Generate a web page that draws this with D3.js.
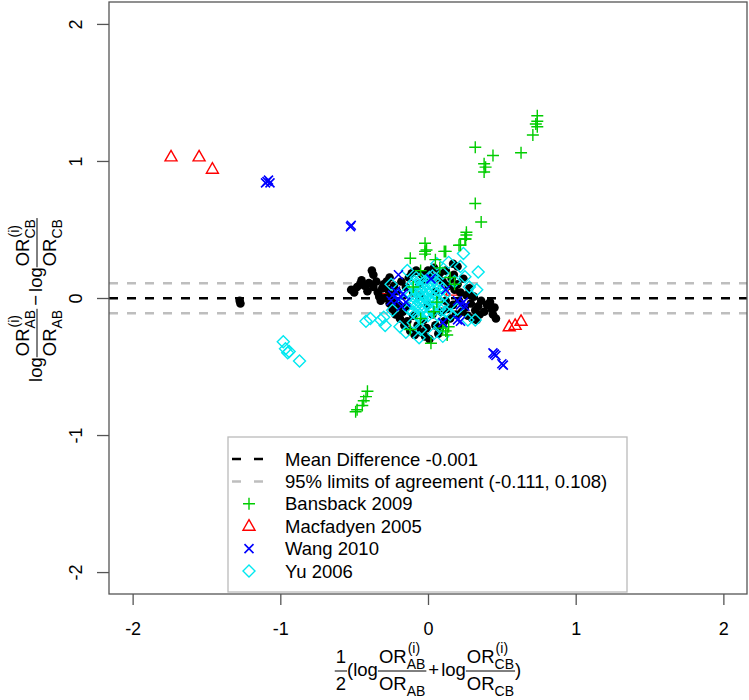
<!DOCTYPE html>
<html>
<head>
<meta charset="utf-8">
<script src="https://cdn.jsdelivr.net/npm/d3@7"></script>
<style>
  html, body { margin: 0; padding: 0; background: #fff; }
  svg { display: block; font-family: "Liberation Sans", Arial, Helvetica, sans-serif; }
</style>
</head>
<body>
<svg id="chart" width="749" height="700"></svg>
<script>
// ---------------- DATA ----------------
const xTicks = [-2, -1, 0, 1, 2];
const yTicks = [-2, -1, 0, 1, 2];
const meanDifference = -0.001;
const limitsOfAgreement = [-0.111, 0.108];

const legendLabels = [
  "Mean Difference -0.001",
  "95% limits of agreement (-0.111, 0.108)",
  "Bansback 2009",
  "Macfadyen 2005",
  "Wang 2010",
  "Yu 2006"
];

// other studies (black filled points)
const otherStudies = [
  [-1.275,-0.02],[-1.27,-0.04],
  [-0.52,0.06],[-0.50,0.04],[-0.48,0.08],[-0.46,0.10],[-0.45,0.13],[-0.43,0.09],[-0.41,0.05],
  [-0.40,0.11],[-0.38,0.20],[-0.37,0.17],[-0.37,0.08],[-0.35,0.12],[-0.34,0.04],[-0.33,0.01],
  [-0.32,-0.02],[-0.31,0.07],[-0.30,0.10],[-0.28,0.12],[-0.27,0.06],[-0.26,0.15],[-0.26,-0.04],
  [-0.25,0.02],[-0.24,-0.08],[-0.23,0.09],[-0.22,-0.12],[-0.21,0.05],[-0.20,-0.06],[-0.19,-0.15],
  [-0.18,0.12],[-0.17,-0.10],[-0.16,-0.20],[-0.15,0.08],[-0.14,-0.17],[-0.13,0.15],[-0.12,-0.24],
  [-0.11,0.18],[-0.10,-0.13],[-0.09,-0.27],[-0.08,0.20],[-0.07,-0.20],[-0.06,0.10],[-0.05,-0.25],
  [-0.04,0.17],[-0.03,-0.16],[-0.02,0.13],[-0.01,-0.22],[0.00,0.20],[0.01,-0.30],[0.02,0.16],
  [0.03,-0.12],[0.04,0.22],[0.05,-0.20],[0.06,0.15],[0.07,-0.26],[0.08,0.18],[0.09,-0.10],
  [0.10,0.12],[0.11,-0.17],[0.12,0.20],[0.13,-0.08],[0.14,0.09],[0.15,-0.15],[0.16,0.14],
  [0.17,-0.05],[0.18,0.06],[0.19,-0.12],[0.20,0.10],[0.21,-0.02],[0.22,0.04],[0.23,-0.10],
  [0.24,0.14],[0.25,-0.07],[0.26,0.02],[0.27,-0.13],[0.28,0.07],[0.29,-0.04],[0.30,-0.15],
  [0.31,0.01],[0.32,-0.09],[0.33,-0.16],[0.34,-0.06],[0.35,-0.12],[0.36,-0.02],[0.38,-0.10],
  [0.40,-0.05],[0.42,-0.03],[0.43,-0.08],[0.45,-0.07],[0.46,-0.15],[0.44,-0.12],
  [0.17,0.25],[0.20,0.23],[0.175,0.17],[0.28,0.03],[-0.29,0.0],[-0.22,-0.03],[-0.14,-0.06],
  [0.05,0.05],[-0.05,0.02],[0.00,-0.05],[0.12,-0.02],[-0.10,0.04],[0.08,-0.22],[-0.02,-0.28]
];

const bansback2009 = [
  [0.74,1.33],[0.74,1.29],[0.73,1.27],[0.74,1.25],[0.71,1.19],[0.63,1.06],[0.32,1.10],[0.44,1.04],
  [0.38,0.98],[0.39,0.955],[0.38,0.92],[0.32,0.69],[0.36,0.555],[0.26,0.48],[0.26,0.46],[0.255,0.43],
  [0.22,0.385],[0.11,0.34],[-0.02,0.40],[-0.02,0.34],[-0.02,0.32],
  [-0.41,-0.68],[-0.42,-0.72],[-0.435,-0.75],[-0.445,-0.785],[-0.48,-0.815],[-0.49,-0.83],
  [-0.12,0.29],[-0.01,0.35],[0.12,0.34],[0.05,0.28],[0.08,0.22],[-0.05,0.20],[0.15,0.15],
  [0.25,0.43],[0.21,0.385],[0.13,-0.27],[0.02,-0.33],[-0.12,-0.23],[0.10,-0.22],[0.12,-0.24],
  [0.14,-0.21],[-0.05,-0.15],[0.04,-0.10],[0.18,0.10],[-0.10,0.08],[0.06,-0.03]
];

const macfadyen2005 = [
  [-1.74,1.03],[-1.55,1.03],[-1.46,0.94],[0.55,-0.21],[0.59,-0.20],[0.63,-0.17],[-0.29,0.06],[0.16,0.05]
];

const wang2010 = [
  [-1.10,0.84],[-1.08,0.86],[-1.09,0.85],[-1.07,0.84],[-0.525,0.52],[-0.52,0.53],
  [0.44,-0.40],[0.45,-0.41],[0.46,-0.42],[0.50,-0.48],[0.51,-0.49],
  [-0.20,0.17],[-0.22,0.05],[-0.24,0.02],[-0.20,-0.01],[-0.17,0.03],[-0.15,-0.03],[-0.18,-0.06],
  [-0.25,-0.02],[0.02,0.14],[0.20,-0.02],[0.22,-0.05],[0.24,-0.03],[0.25,-0.06],[0.20,-0.16],
  [0.22,-0.17],[0.10,-0.18],[0.12,0.06]
];

const yu2006 = [
  [-0.98,-0.32],[-0.965,-0.37],[-0.95,-0.40],[-0.94,-0.39],[-0.87,-0.46],
  [0.24,0.325],[0.34,0.19],[0.25,0.155],[0.22,0.23],[0.14,0.26],[0.06,0.25],[-0.14,0.20],
  [-0.20,0.02],[-0.24,-0.09],[-0.30,-0.14],[-0.32,-0.16],[-0.39,-0.15],[-0.42,-0.17],[-0.29,-0.20],
  [-0.19,-0.21],[-0.05,-0.23],[-0.06,-0.29],[0.04,-0.26],[0.27,-0.16],[0.32,-0.16],[0.33,0.06],
  [0.18,0.12],[0.10,0.18],[-0.08,0.15],[0.20,-0.08],[0.15,-0.12],[-0.10,-0.18],[0.08,-0.20],
  [-0.25,0.10],[0.28,0.08],[0.10,-0.28],[-0.15,-0.25],
  [-0.12,0.02],[-0.11,-0.04],[-0.10,0.08],[-0.10,-0.10],[-0.09,0.12],[-0.09,0.00],[-0.08,-0.06],
  [-0.08,0.05],[-0.07,-0.13],[-0.07,0.10],[-0.06,0.02],[-0.06,-0.03],[-0.05,0.14],[-0.05,-0.09],
  [-0.05,0.06],[-0.04,-0.01],[-0.04,-0.15],[-0.03,0.09],[-0.03,0.03],[-0.03,-0.06],[-0.02,0.12],
  [-0.02,-0.11],[-0.02,0.00],[-0.01,0.05],[-0.01,-0.04],[0.00,0.08],[0.00,-0.01],[0.00,-0.13],
  [0.01,0.03],[0.01,-0.07],[0.01,0.15],[0.02,-0.02],[0.02,0.10],[0.03,0.05],[0.03,-0.10],
  [0.04,0.00],[0.04,0.13],[0.05,-0.05],[0.05,0.07],[0.06,-0.12],[0.06,0.03],[0.07,0.10],
  [0.07,-0.02],[0.08,0.05],[0.08,-0.08],[0.09,0.00],[0.10,0.07],[0.10,-0.05],[0.11,0.02],
  [-0.13,-0.08],[-0.14,0.05],[-0.11,0.10],[0.12,-0.10],[-0.06,-0.14],[0.03,0.16]
];

// ---------------- CHART ----------------
const svg = d3.select("#chart");
const plot = { left: 109, right: 747, top: 2, bottom: 594 };
const x = d3.scaleLinear().domain([-2.16, 2.16]).range([plot.left, plot.right]);
const y = d3.scaleLinear().domain([-2.16, 2.16]).range([plot.bottom, plot.top]);

const colors = { other: "#000000", bansback: "#00CD00", macfadyen: "#FF0000", wang: "#0000FF", yu: "#00E8F0" };
const axisColor = "#555";

svg.append("defs").append("clipPath").attr("id", "clip")
  .append("rect").attr("x", plot.left).attr("y", plot.top)
  .attr("width", plot.right - plot.left).attr("height", plot.bottom - plot.top);

// reference lines
const lines = svg.append("g").attr("clip-path", "url(#clip)");
limitsOfAgreement.forEach(v => {
  lines.append("line").attr("x1", plot.left).attr("x2", plot.right)
    .attr("y1", y(v)).attr("y2", y(v))
    .attr("stroke", "#bebebe").attr("stroke-width", 2.5).attr("stroke-dasharray", "9,9");
});
lines.append("line").attr("x1", plot.left).attr("x2", plot.right)
  .attr("y1", y(meanDifference)).attr("y2", y(meanDifference))
  .attr("stroke", "#000").attr("stroke-width", 2.5).attr("stroke-dasharray", "9,9");

// symbol generators
const sym = {
  circle: (g, cx, cy, c) => g.append("circle").attr("cx", cx).attr("cy", cy).attr("r", 4.3).attr("fill", c),
  plus: (g, cx, cy, c) => g.append("path").attr("d", `M${cx-6},${cy}H${cx+6}M${cx},${cy-6}V${cy+6}`)
    .attr("stroke", c).attr("stroke-width", 1.4).attr("fill", "none"),
  tri: (g, cx, cy, c) => g.append("path").attr("d", `M${cx},${cy-6.5}L${cx+6},${cy+4}L${cx-6},${cy+4}Z`)
    .attr("stroke", c).attr("stroke-width", 1.4).attr("fill", "none"),
  cross: (g, cx, cy, c) => g.append("path").attr("d", `M${cx-4.5},${cy-4.5}L${cx+4.5},${cy+4.5}M${cx-4.5},${cy+4.5}L${cx+4.5},${cy-4.5}`)
    .attr("stroke", c).attr("stroke-width", 1.6).attr("fill", "none"),
  diamond: (g, cx, cy, c) => g.append("path").attr("d", `M${cx},${cy-6}L${cx+6},${cy}L${cx},${cy+6}L${cx-6},${cy}Z`)
    .attr("stroke", c).attr("stroke-width", 1.4).attr("fill", "none")
};

const pts = svg.append("g").attr("clip-path", "url(#clip)");
function drawSeries(data, kind, color) {
  const g = pts.append("g");
  data.forEach(d => sym[kind](g, x(d[0]), y(d[1]), color));
}
drawSeries(macfadyen2005, "tri", colors.macfadyen);
drawSeries(otherStudies, "circle", colors.other);
drawSeries(yu2006, "diamond", colors.yu);
drawSeries(bansback2009, "plus", colors.bansback);
drawSeries(wang2010, "cross", colors.wang);

// box
svg.append("rect").attr("x", plot.left).attr("y", plot.top)
  .attr("width", plot.right - plot.left).attr("height", plot.bottom - plot.top)
  .attr("fill", "none").attr("stroke", axisColor).attr("stroke-width", 1.3);

// axes
const xAxis = svg.append("g").attr("transform", `translate(0,${plot.bottom})`)
  .call(d3.axisBottom(x).tickValues(xTicks).tickSize(11).tickFormat(d => String(d)));
xAxis.select(".domain").remove();
xAxis.selectAll("line").attr("stroke", axisColor).attr("stroke-width", 1.3);
xAxis.selectAll("text").attr("y", 41).attr("dy", 0).attr("font-size", 18)
  .attr("fill", "#000").attr("font-family", "Liberation Sans, Arial, sans-serif");

const yAxis = svg.append("g").attr("transform", `translate(${plot.left},0)`)
  .call(d3.axisLeft(y).tickValues(yTicks).tickSize(12).tickFormat(d => String(d)));
yAxis.select(".domain").remove();
yAxis.selectAll("line").attr("stroke", axisColor).attr("stroke-width", 1.3);
yAxis.selectAll("text").attr("x", 0).attr("y", -27).attr("dy", 0)
  .attr("transform", "rotate(-90)").attr("text-anchor", "middle")
  .attr("font-size", 18).attr("fill", "#000").attr("font-family", "Liberation Sans, Arial, sans-serif");

// ---------------- math titles ----------------
const FS = 18.5, SFS = 14;
function drawRun(g, r, x0, base) {
  const t = g.append("text").attr("x", x0).attr("y", base).attr("font-size", FS).text(r.s);
  const w = t.node().getComputedTextLength();
  let ex = 0;
  if (r.sub) {
    const s = g.append("text").attr("x", x0 + w).attr("y", base + FS * 0.34).attr("font-size", SFS).text(r.sub);
    ex = Math.max(ex, s.node().getComputedTextLength());
  }
  if (r.sup) {
    const s = g.append("text").attr("x", x0 + w + 1).attr("y", base - FS * 0.53).attr("font-size", SFS).text(r.sup);
    ex = Math.max(ex, s.node().getComputedTextLength() + 1);
  }
  return w + ex;
}
function drawMath(parent, items) {
  const g = parent.append("g");
  let cx = 0;
  items.forEach(it => {
    if (it.frac) {
      const ng = g.append("g"), dg = g.append("g");
      const nw = drawRun(ng, it.num, 0, -FS * 0.45);
      const dw = drawRun(dg, it.den, 0, FS * 1.02);
      const w = Math.max(nw, dw) + 2;
      ng.attr("transform", `translate(${cx + (w - nw) / 2},0)`);
      dg.attr("transform", `translate(${cx + (w - dw) / 2},0)`);
      g.append("line").attr("x1", cx).attr("x2", cx + w).attr("y1", 0).attr("y2", 0)
        .attr("stroke", "#000").attr("stroke-width", 1);
      cx += w;
    } else {
      const pad = it.pad || 0;
      const t = g.append("text").attr("x", cx + pad).attr("y", FS * 0.25).attr("font-size", FS).text(it.s);
      cx += t.node().getComputedTextLength() + 2 * pad;
    }
  });
  return { g, w: cx };
}
const fracAB = { frac: true, num: { s: "OR", sub: "AB", sup: "(i)" }, den: { s: "OR", sub: "AB" } };
const fracCB = { frac: true, num: { s: "OR", sub: "CB", sup: "(i)" }, den: { s: "OR", sub: "CB" } };

// x title
const xt = svg.append("g");
const xm = drawMath(xt, [
  { frac: true, num: { s: "1" }, den: { s: "2" } },
  { s: "(log" }, fracAB, { s: "+", pad: 2 }, { s: "log" }, fracCB, { s: ")" }
]);
xt.attr("transform", `translate(${428 - xm.w / 2},671)`);

// y title
const yt = svg.append("g");
const ym = drawMath(yt, [
  { s: "log" }, fracAB, { s: "\u2212", pad: 3 }, { s: "log" }, fracCB
]);
yt.attr("transform", `translate(37,${300}) rotate(-90) translate(${-ym.w / 2},0)`);

// ---------------- legend ----------------
const lg = svg.append("g");
lg.append("rect").attr("x", 228).attr("y", 437).attr("width", 399).attr("height", 155)
  .attr("fill", "#fff").attr("stroke", "#bbb").attr("stroke-width", 1.3);
const legendKinds = [
  { type: "line", color: "#000" },
  { type: "line", color: "#bebebe" },
  { type: "plus", color: colors.bansback },
  { type: "tri", color: colors.macfadyen },
  { type: "cross", color: colors.wang },
  { type: "diamond", color: colors.yu }
];
legendLabels.forEach((lab, i) => {
  const cy = 459 + i * 22.4;
  const k = legendKinds[i];
  if (k.type === "line") {
    lg.append("line").attr("x1", 232).attr("x2", 263).attr("y1", cy).attr("y2", cy)
      .attr("stroke", k.color).attr("stroke-width", 2.5).attr("stroke-dasharray", "9,13");
  } else {
    sym[k.type](lg, 249, cy, k.color);
  }
  lg.append("text").attr("x", 285).attr("y", cy + 6.6).attr("font-size", 18.5).attr("fill", "#000").text(lab);
});
</script>
</body>
</html>
